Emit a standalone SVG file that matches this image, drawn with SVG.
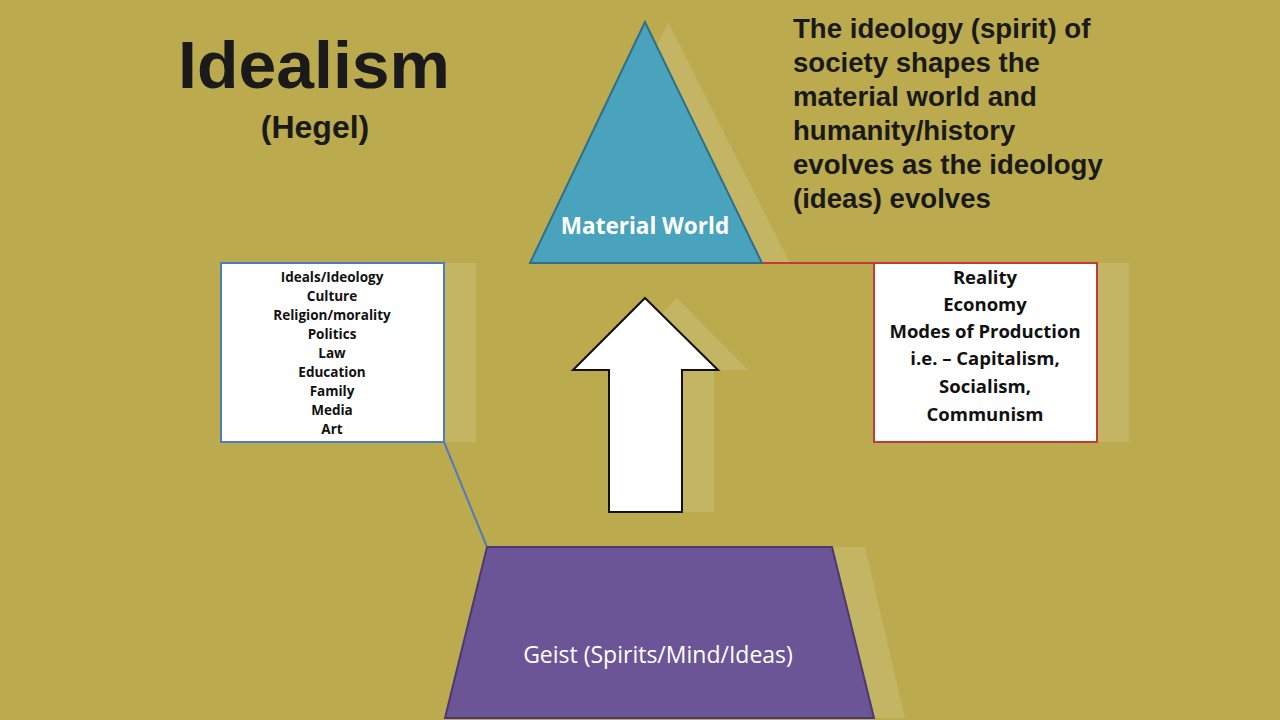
<svg xmlns="http://www.w3.org/2000/svg" width="1280" height="720" viewBox="0 0 1280 720">
<style>
.b{font-family:"Liberation Sans",Arial,sans-serif;font-weight:bold;fill:#1a1a1a}
.s{font-family:"Open Sans","Liberation Sans",sans-serif;font-weight:bold;fill:#111;text-anchor:middle}
.ghost{fill:#ffffff;opacity:0.13}
</style>
<rect width="1280" height="720" fill="#BBAA4E"/>
<g id="ghosts">
<polygon class="ghost" points="668,22 555,263 790,263"/>
<rect class="ghost" x="254" y="263" width="222" height="179"/>
<rect class="ghost" x="907" y="263" width="222" height="179"/>
<polygon class="ghost" points="677,298 748,370 714,370 714,512 641,512 641,370 606,370"/>
<polygon class="ghost" points="520,547 865,547 905,718 478,718"/>
</g>
<g id="connectors">
<line x1="762" y1="263" x2="874" y2="263" stroke="#C0393B" stroke-width="2"/>
<line x1="444" y1="442" x2="487" y2="547" stroke="#4F7BBF" stroke-width="2"/>
</g>
<g id="title">
<text class="b" x="178" y="88" font-size="66" textLength="272" lengthAdjust="spacingAndGlyphs">Idealism</text>
<text class="b" x="315" y="138" font-size="32" text-anchor="middle">(Hegel)</text>
</g>
<g id="caption" class="b" font-size="27.6">
<text x="793" y="38">The ideology (spirit) of</text>
<text x="793" y="72">society shapes the</text>
<text x="793" y="106">material world and</text>
<text x="793" y="140">humanity/history</text>
<text x="793" y="174">evolves as the ideology</text>
<text x="793" y="208">(ideas) evolves</text>
</g>
<g id="material-world">
<polygon points="645,22 530,263 762,263" fill="#4AA3BC" stroke="#2F6F8A" stroke-width="2"/>
<text x="645" y="234" font-family="Open Sans,Liberation Sans,sans-serif" font-weight="bold" font-size="22.5" fill="#fff" text-anchor="middle">Material World</text>
</g>
<g id="superstructure">
<rect x="221" y="263" width="223" height="179" fill="#fff" stroke="#4F7BBF" stroke-width="2"/>
<g class="s" font-size="13.5">
<text x="332" y="282">Ideals/Ideology</text>
<text x="332" y="301">Culture</text>
<text x="332" y="320">Religion/morality</text>
<text x="332" y="339">Politics</text>
<text x="332" y="358">Law</text>
<text x="332" y="377">Education</text>
<text x="332" y="396">Family</text>
<text x="332" y="415">Media</text>
<text x="332" y="434">Art</text>
</g>
</g>
<g id="base">
<rect x="874" y="263" width="223" height="179" fill="#fff" stroke="#C0393B" stroke-width="2"/>
<g class="s" font-size="18.5">
<text x="985" y="284">Reality</text>
<text x="985" y="311">Economy</text>
<text x="985" y="338">Modes of Production</text>
<text x="985" y="365">i.e. – Capitalism,</text>
<text x="985" y="393">Socialism,</text>
<text x="985" y="421">Communism</text>
</g>
</g>
<g id="arrow">
<polygon points="645,298 718,370 682,370 682,512 609,512 609,370 573,370" fill="#fff" stroke="#111" stroke-width="2"/>
</g>
<g id="geist">
<polygon points="487,547 832,547 874,718 445,718" fill="#6B5596" stroke="#4a3a70" stroke-width="2"/>
<text x="658" y="663" font-family="Open Sans,Liberation Sans,sans-serif" font-size="23" fill="#fff" text-anchor="middle">Geist (Spirits/Mind/Ideas)</text>
</g>
</svg>
